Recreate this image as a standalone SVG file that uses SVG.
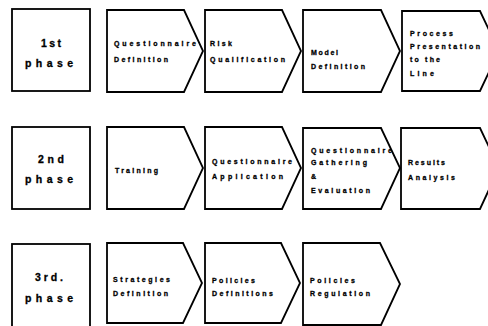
<svg xmlns="http://www.w3.org/2000/svg" width="488" height="326" viewBox="0 0 488 326">
<style>
.box{fill:#fff;stroke:#000;stroke-width:1.8;stroke-linejoin:miter}
.ph{font-family:"Liberation Sans",Arial,sans-serif;font-weight:bold;font-size:10.5px;fill:#000;stroke:#000;stroke-width:0.3;text-anchor:middle}
.t{font-family:"Liberation Sans",Arial,sans-serif;font-weight:bold;font-size:7px;fill:#000;stroke:#000;stroke-width:0.3}
</style>
<rect width="488" height="326" fill="#fff"/>
<!-- Row 1 -->
<g id="phase1">
<rect class="box" x="12" y="9" width="78" height="82"/>
<text class="ph" x="51" y="47" textLength="20" lengthAdjust="spacing">1st</text>
<text class="ph" x="49" y="67" textLength="48" lengthAdjust="spacing">phase</text>
</g>
<g id="r1c1">
<path class="box" d="M107,10 H184 L203,51 L184,92 H107 Z"/>
<text class="t" x="114" y="45.5" textLength="82" lengthAdjust="spacing">Questionnaire</text>
<text class="t" x="114" y="61.5" textLength="54" lengthAdjust="spacing">Definition</text>
</g>
<g id="r1c2">
<path class="box" d="M205,10 H282 L301,51 L282,92 H205 Z"/>
<text class="t" x="210" y="45.5" textLength="22" lengthAdjust="spacing">Risk</text>
<text class="t" x="210" y="61.5" textLength="75" lengthAdjust="spacing">Qualification</text>
</g>
<g id="r1c3">
<path class="box" d="M303,10 H381 L400,51 L381,92 H303 Z"/>
<text class="t" x="311" y="54.5" textLength="27" lengthAdjust="spacing">Model</text>
<text class="t" x="311" y="68.5" textLength="54" lengthAdjust="spacing">Definition</text>
</g>
<g id="r1c4">
<path class="box" d="M402,11 H480 L499,51 L480,91 H402 Z"/>
<text class="t" x="410" y="35.5" textLength="43" lengthAdjust="spacing">Process</text>
<text class="t" x="410" y="48.5" textLength="70" lengthAdjust="spacing">Presentation</text>
<text class="t" x="410" y="61.5" textLength="30" lengthAdjust="spacing">to the</text>
<text class="t" x="410" y="75.5" textLength="24" lengthAdjust="spacing">Line</text>
</g>
<!-- Row 2 -->
<g id="phase2">
<rect class="box" x="12" y="127" width="78" height="82"/>
<text class="ph" x="51" y="163" textLength="26" lengthAdjust="spacing">2nd</text>
<text class="ph" x="49" y="183" textLength="48" lengthAdjust="spacing">phase</text>
</g>
<g id="r2c1">
<path class="box" d="M107,127 H184 L203,168 L184,209 H107 Z"/>
<text class="t" x="115" y="172.5" textLength="43" lengthAdjust="spacing">Training</text>
</g>
<g id="r2c2">
<path class="box" d="M205,127 H282 L301,168 L282,209 H205 Z"/>
<text class="t" x="212" y="163.5" textLength="80" lengthAdjust="spacing">Questionnaire</text>
<text class="t" x="212" y="178.5" textLength="71" lengthAdjust="spacing">Application</text>
</g>
<g id="r2c3">
<path class="box" d="M303,128 H381 L400,168 L381,209 H303 Z"/>
<text class="t" x="311" y="152.5" textLength="81" lengthAdjust="spacing">Questionnaire</text>
<text class="t" x="311" y="164.5" textLength="56" lengthAdjust="spacing">Gathering</text>
<text class="t" x="311" y="178.5">&amp;</text>
<text class="t" x="311" y="192.5" textLength="59" lengthAdjust="spacing">Evaluation</text>
</g>
<g id="r2c4">
<path class="box" d="M401,128 H480 L499,168 L480,209 H401 Z"/>
<text class="t" x="408" y="164.5" textLength="37" lengthAdjust="spacing">Results</text>
<text class="t" x="408" y="179.5" textLength="47" lengthAdjust="spacing">Analysis</text>
</g>
<!-- Row 3 -->
<g id="phase3">
<rect class="box" x="12" y="244" width="78" height="90"/>
<text class="ph" x="49" y="281" textLength="28" lengthAdjust="spacing">3rd.</text>
<text class="ph" x="49" y="302" textLength="48" lengthAdjust="spacing">phase</text>
</g>
<g id="r3c1">
<path class="box" d="M107,243 H183 L202,283 L183,323 H107 Z"/>
<text class="t" x="113" y="281.5" textLength="57" lengthAdjust="spacing">Strategies</text>
<text class="t" x="113" y="295.5" textLength="55" lengthAdjust="spacing">Definition</text>
</g>
<g id="r3c2">
<path class="box" d="M205,243 H281 L300,283 L281,323 H205 Z"/>
<text class="t" x="212" y="282.5" textLength="43" lengthAdjust="spacing">Policies</text>
<text class="t" x="212" y="295.5" textLength="61" lengthAdjust="spacing">Definitions</text>
</g>
<g id="r3c3">
<path class="box" d="M303,243 H380 L400,284 L381,325 H303 Z"/>
<text class="t" x="310" y="282.5" textLength="45" lengthAdjust="spacing">Policies</text>
<text class="t" x="310" y="295.5" textLength="60" lengthAdjust="spacing">Regulation</text>
</g>
</svg>
